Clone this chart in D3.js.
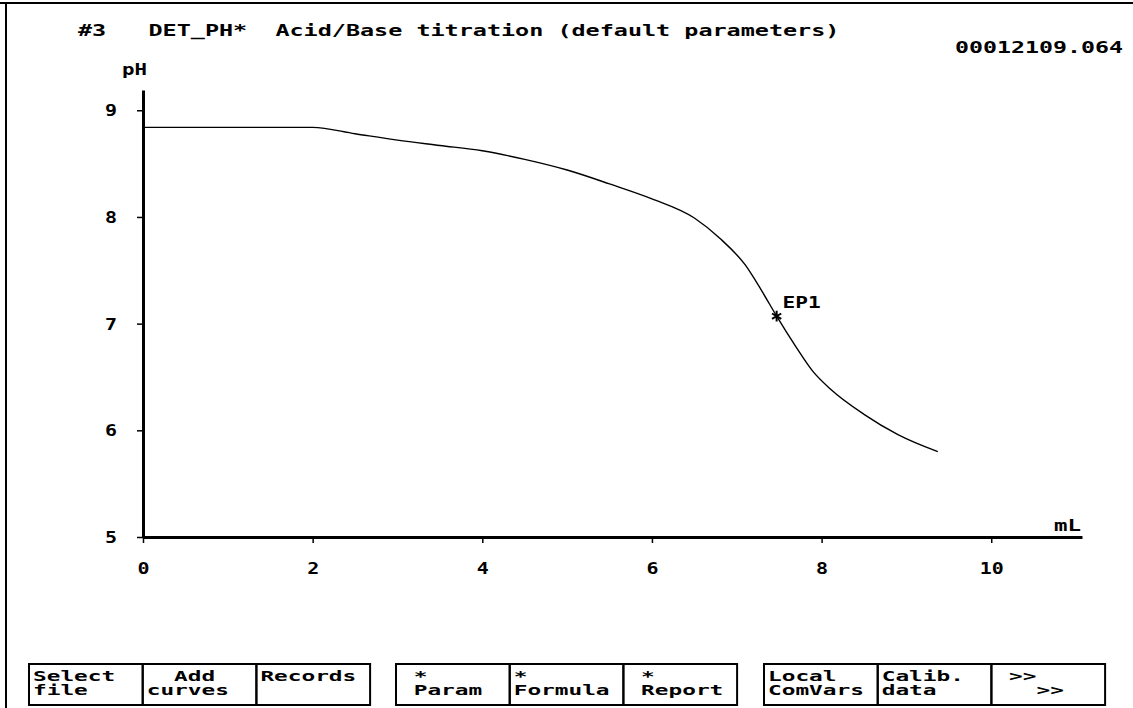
<!DOCTYPE html>
<html>
<head>
<meta charset="utf-8">
<script src="https://cdn.jsdelivr.net/npm/d3@7"></script>
<style>
  body { margin: 0; background: #fff; }
  svg text { font-family: 'DejaVu Sans Mono', monospace; font-weight: bold; fill: #000; white-space: pre; }
</style>
</head>
<body>
<script>
// titration curve
const volume = [0, 2.0, 2.5, 3.0, 3.5, 4.0, 4.5, 5.0, 5.5, 6.0, 6.5, 6.8, 7.1, 7.3, 7.47, 7.7, 7.9, 8.1, 8.5, 8.9, 9.37];
const ph = [8.84, 8.84, 8.78, 8.72, 8.67, 8.62, 8.54, 8.44, 8.31, 8.17, 7.99, 7.80, 7.55, 7.30, 7.07, 6.78, 6.55, 6.39, 6.15, 5.96, 5.80];
const endpoints = [{ name: 'EP1', volume: 7.47, ph: 7.07 }];
const xTicks = [0, 2, 4, 6, 8, 10];
const yTicks = [5, 6, 7, 8, 9];
const title = '#3   DET_PH*  Acid/Base titration (default parameters)';
const fileId = '00012109.064';
const buttonGroups = [
  [['Select', 'file'], ['  Add', 'curves'], ['Records', '']],
  [[' *', ' Param'], ['*', 'Formula'], [' *', ' Report']],
  [['Local', 'ComVars'], ['Calib.', 'data'], [' >>', '   >>']]
];

const W = 1133, H = 708;
const svg = d3.select('body').append('svg').attr('width', W).attr('height', H);

// screen frame
svg.append('line').attr('x1', 0).attr('x2', W).attr('y1', 3).attr('y2', 3)
  .attr('stroke', '#000').attr('stroke-width', 2);
svg.append('line').attr('x1', 6).attr('x2', 6).attr('y1', 3).attr('y2', H)
  .attr('stroke', '#000').attr('stroke-width', 2);

// monospace text stretched to the old screen cell width
function monoText(g, str, x, y, cell, size) {
  const lead = str.length - str.trimStart().length;
  const s = str.trim();
  if (!s) return;
  return g.append('text')
    .attr('x', x + lead * cell).attr('y', y)
    .attr('font-size', size)
    .attr('textLength', s.length * cell)
    .attr('lengthAdjust', 'spacingAndGlyphs')
    .text(s);
}

monoText(svg, title, 78, 36, 14.1, 15);
monoText(svg, fileId, 955, 53, 14, 15);

const x = d3.scaleLinear().domain([0, 11.07]).range([143, 1082]);
const y = d3.scaleLinear().domain([5, 9.19]).range([537, 90]);

const yAxis = svg.append('g')
  .attr('transform', `translate(${x(0)},0)`)
  .call(d3.axisLeft(y).tickValues(yTicks).tickFormat(d3.format('d'))
    .tickSize(6).tickSizeOuter(0).tickPadding(20));
const xAxis = svg.append('g')
  .attr('transform', `translate(0,${y(5)})`)
  .call(d3.axisBottom(x).tickValues(xTicks).tickFormat(d3.format('d'))
    .tickSize(6).tickSizeOuter(0).tickPadding(20));

[yAxis, xAxis].forEach((a) => {
  a.select('.domain').attr('stroke-width', 3);
  a.selectAll('.tick line').attr('stroke-width', 1.5);
  a.selectAll('.tick text')
    .attr('font-size', 15)
    .attr('font-family', "'DejaVu Sans Mono', monospace")
    .attr('font-weight', 'bold')
    .attr('textLength', d => String(d).length * 12)
    .attr('lengthAdjust', 'spacingAndGlyphs');
});
yAxis.selectAll('.tick text').attr('dy', '0.36em');

monoText(svg, 'pH', 122, 75, 12.5, 15);
monoText(svg, 'mL', 1054, 531, 13.5, 15);

const line = d3.line()
  .x((d, i) => x(volume[i]))
  .y(d => y(d))
  .curve(d3.curveMonotoneX);

svg.append('path')
  .datum(ph)
  .attr('d', line)
  .attr('fill', 'none')
  .attr('stroke', '#000')
  .attr('stroke-width', 1.4);

const ep = svg.selectAll('.ep').data(endpoints).enter().append('g').attr('class', 'ep');
ep.append('path')
  .attr('transform', d => `translate(${x(d.volume)},${y(d.ph)})`)
  .attr('d', d3.symbol(d3.symbolAsterisk, 80))
  .attr('fill', 'none')
  .attr('stroke', '#000')
  .attr('stroke-width', 2);
ep.each(function (d) {
  monoText(d3.select(this), d.name, x(d.volume) + 6, y(d.ph) - 8, 12.7, 15);
});

// soft key bar
const groupLeft = [29, 396, 764];
const keyW = 113.7, keyTop = 664, keyH = 41;
const keys = svg.append('g');
buttonGroups.forEach((grp, gi) => {
  grp.forEach((lbl, ki) => {
    const left = groupLeft[gi] + ki * keyW;
    keys.append('rect')
      .attr('x', left).attr('y', keyTop)
      .attr('width', keyW).attr('height', keyH)
      .attr('fill', 'none').attr('stroke', '#000').attr('stroke-width', 2);
    monoText(keys, lbl[0], left + 4, keyTop + 17, 13.7, 14);
    monoText(keys, lbl[1], left + 4, keyTop + 31, 13.7, 14);
  });
});
</script>
</body>
</html>
